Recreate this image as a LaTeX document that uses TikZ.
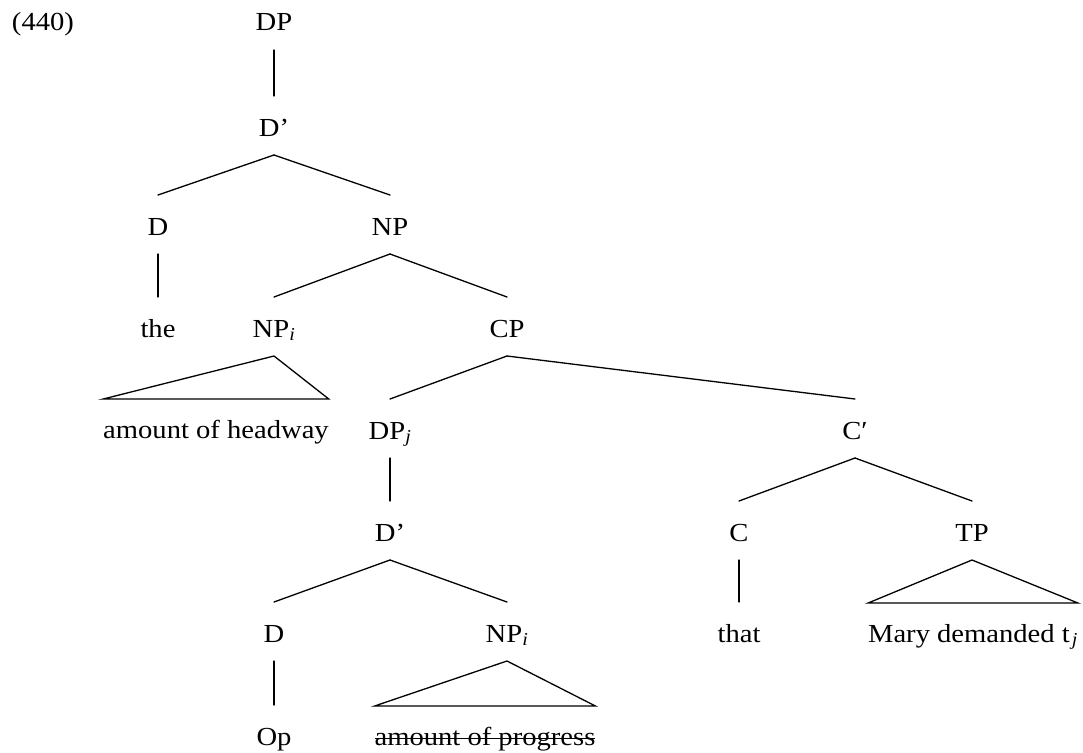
\documentclass[tikz,border=0pt]{standalone}
\usepackage{fontspec}
\setmainfont[FakeStretch=1.1]{Liberation Serif}
\usetikzlibrary{calc}

% subscripted index in italics
\newcommand\idx[1]{\textsubscript{\itshape #1}}

\tikzset{
  lbl/.style={anchor=base, inner sep=0pt, outer sep=0pt, font=\fontsize{26}{30}\selectfont},
  branch/.style={line width=1.3pt, line cap=round, line join=miter},
  strike/.style={line width=1pt},
}
% edge from a parent label down to a daughter label
\newcommand\treeedge[2]{\draw[branch] ($(#1.base)+(0,19)$) -- ($(#2.base)+(0,-40)$);}
% triangle over an unanalysed constituent
\newcommand\treeroof[2]{\draw[branch] ($(#1.base)+(0,19)$) -- ($(#2.base east)+(0,-39)$) -- ($(#2.base west)+(0,-39)$) -- cycle;}

\begin{document}
\begin{tikzpicture}[x=1pt, y=-1pt]
  \useasboundingbox (0,0) rectangle (1083,752);

  \node[lbl, anchor=base west] (num) at (12,31) {(440)};

  \node[lbl] (dp)    at (274,31)  {DP};
  \node[lbl] (dbar)  at (274,136) {D’};
  \node[lbl] (d)     at (158,235) {D};
  \node[lbl] (np)    at (390,235) {NP};
  \node[lbl] (the)   at (158,337) {the};
  \node[lbl] (npi)   at (274,337) {NP\idx{i}};
  \node[lbl] (cp)    at (507,337) {CP};
  \node[lbl] (head)  at (216,438) {amount of headway};
  \node[lbl] (dpj)   at (390,439) {DP\idx{j}};
  \node[lbl] (cbar)  at (855,439) {C′};
  \node[lbl] (dbarb) at (390,541) {D’};
  \node[lbl] (c)     at (739,541) {C};
  \node[lbl] (tp)    at (972,541) {TP};
  \node[lbl] (op)    at (274,642) {D};
  \node[lbl] (npib)  at (507,642) {NP\idx{i}};
  \node[lbl] (that)  at (739,642) {that};
  \node[lbl] (mary)  at (973,642) {Mary demanded t\kern2pt\idx{j}};
  \node[lbl] (opw)   at (274,745) {Op};
  \node[lbl] (prog)  at (485,745) {amount of progress};
  % struck-through deleted copy
  \draw[strike] ($(prog.base west)+(0,-7)$) -- ($(prog.base east)+(0,-7)$);

  \treeedge{dp}{dbar}
  \treeedge{dbar}{d}
  \treeedge{dbar}{np}
  \treeedge{d}{the}
  \treeedge{np}{npi}
  \treeedge{np}{cp}
  \treeroof{npi}{head}
  \treeedge{cp}{dpj}
  \treeedge{cp}{cbar}
  \treeedge{dpj}{dbarb}
  \treeedge{dbarb}{op}
  \treeedge{dbarb}{npib}
  \treeedge{op}{opw}
  \treeroof{npib}{prog}
  \treeedge{cbar}{c}
  \treeedge{cbar}{tp}
  \treeedge{c}{that}
  \treeroof{tp}{mary}
\end{tikzpicture}
\end{document}
